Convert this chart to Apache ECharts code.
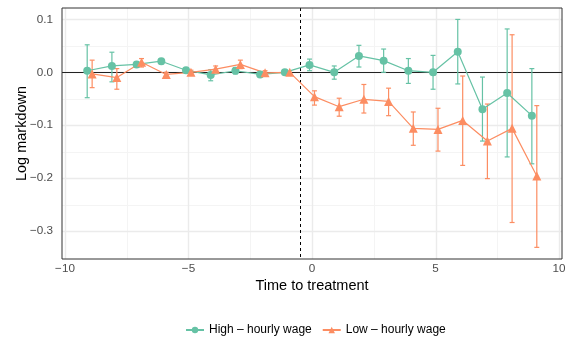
<!DOCTYPE html>
<html><head><meta charset="utf-8">
<script src="https://cdn.jsdelivr.net/npm/echarts@6/dist/echarts.min.js"></script>
<style>html,body{margin:0;padding:0;background:#fff}#c{width:575px;height:339px}</style>
</head><body><div id="c"></div>
<script>
// ---- data ----
const periods = [-9,-8,-7,-6,-5,-4,-3,-2,-1,0,1,2,3,4,5,6,7,8,9];
const highEst = [0.003,0.012,0.015,0.021,0.004,-0.005,0.003,-0.004,0,0.014,0.000,0.031,0.022,0.003,0.000,0.039,-0.070,-0.039,-0.082];
const highLo  = [-0.048,-0.018,0.010,0.016,0.000,-0.016,-0.003,-0.008,null,0.003,-0.013,0.010,0.000,-0.021,-0.032,-0.022,-0.130,-0.160,-0.173];
const highHi  = [0.052,0.038,0.020,0.026,0.008,0.005,0.009,0.000,null,0.025,0.012,0.051,0.044,0.026,0.032,0.100,-0.009,0.082,0.007];
const lowEst  = [-0.003,-0.010,0.019,-0.004,0.000,0.006,0.015,-0.001,0,-0.046,-0.065,-0.051,-0.055,-0.106,-0.108,-0.091,-0.130,-0.106,-0.196];
const lowLo   = [-0.029,-0.032,0.010,-0.008,-0.004,0.000,0.007,-0.005,null,-0.062,-0.083,-0.077,-0.082,-0.138,-0.149,-0.176,-0.201,-0.284,-0.331];
const lowHi   = [0.023,0.007,0.026,0.000,0.004,0.012,0.023,0.003,null,-0.035,-0.049,-0.023,-0.030,-0.075,-0.068,-0.007,-0.060,0.071,-0.063];
const seriesNames = ['High \u2013 hourly wage','Low \u2013 hourly wage'];
const xTicks = [-10,-5,0,5,10];
const yTicks = [-0.3,-0.2,-0.1,0.0,0.1];
const xMinor = [-7.5,-2.5,2.5,7.5];
const yMinor = [-0.25,-0.15,-0.05,0.05];
const treatmentLine = -0.5;
const zeroLine = 0;

// ---- styling constants ----
const DODGE = 0.1, CAP = 0.1;
const C_HIGH = '#66C2A5', C_LOW = '#FC8D62';
const FONT = 'Liberation Sans, Arial, Helvetica, sans-serif';
const minus = v => (v < 0 ? '\u2212' : '') + Math.abs(v);

function vlineSeries(vals, color, width, type, z) {
  return {
    type: 'custom', silent: true, z: z, clip: true,
    data: vals.map(v => [v, 0]),
    renderItem(params, api) {
      const cs = params.coordSys;
      let x = api.coord([api.value(0), 0])[0];
      x = Math.round(x) + (width % 2 ? 0.5 : 0);
      return { type: 'line', shape: { x1: x, y1: cs.y, x2: x, y2: cs.y + cs.height },
        style: { stroke: color, lineWidth: width, lineDash: type } };
    }
  };
}
function hlineSeries(vals, color, width, z) {
  return {
    type: 'custom', silent: true, z: z, clip: true,
    data: vals.map(v => [0, v]),
    renderItem(params, api) {
      const cs = params.coordSys;
      let y = api.coord([0, api.value(1)])[1];
      y = Math.round(y) + (width % 2 ? 0.5 : 0);
      return { type: 'line', shape: { x1: cs.x, y1: y, x2: cs.x + cs.width, y2: y },
        style: { stroke: color, lineWidth: width } };
    }
  };
}
function errSeries(offset, lo, hi, color) {
  const data = [];
  periods.forEach((t, i) => { if (lo[i] != null) data.push([t + offset, lo[i], hi[i]]); });
  return {
    type: 'custom', z: 3, silent: true,
    encode: { x: 0, y: [1, 2] },
    data: data,
    renderItem(params, api) {
      const x = api.value(0);
      const p1 = api.coord([x, api.value(1)]);
      const p2 = api.coord([x, api.value(2)]);
      const l = api.coord([x - CAP, api.value(1)])[0];
      const r = api.coord([x + CAP, api.value(1)])[0];
      const st = { stroke: color, lineWidth: 1.2 };
      return { type: 'group', children: [
        { type: 'line', shape: { x1: p1[0], y1: p1[1], x2: p2[0], y2: p2[1] }, style: st },
        { type: 'line', shape: { x1: l, y1: p1[1], x2: r, y2: p1[1] }, style: st },
        { type: 'line', shape: { x1: l, y1: p2[1], x2: r, y2: p2[1] }, style: st }
      ] };
    }
  };
}
function lineSeries(name, offset, est, color, symbol, size) {
  return {
    type: 'line', name: name, z: 4,
    data: periods.map((t, i) => [t + offset, est[i]]),
    symbol: symbol, symbolSize: size, showSymbol: true,
    color: color,
    lineStyle: { color: color, width: 1.2 },
    itemStyle: { color: color, opacity: 1 },
    emphasis: { disabled: true }
  };
}

const chart = echarts.init(document.getElementById('c'), null, { renderer: 'canvas' });
chart.setOption({
  animation: false,
  backgroundColor: '#fff',
  textStyle: { fontFamily: FONT },
  grid: { left: 62, right: 13, top: 8, bottom: 80, containLabel: false, outerBoundsMode: 'none',
    show: true, borderColor: '#333', borderWidth: 1, backgroundColor: 'transparent', z: 5 },
  xAxis: {
    type: 'value', min: -10.12, max: 10.12,
    name: 'Time to treatment', nameLocation: 'middle', nameGap: 19, nameMoveOverlap: false,
    nameTextStyle: { fontSize: 14.5, color: '#000', fontFamily: FONT },
    axisLine: { show: false },
    splitLine: { show: false },
    axisTick: { show: true, length: 3, lineStyle: { color: '#333', width: 1 }, customValues: xTicks },
    axisLabel: { customValues: xTicks, formatter: v => minus(v), color: '#4D4D4D', fontSize: 11.7, margin: 4, fontFamily: FONT }
  },
  yAxis: {
    type: 'value', min: -0.353, max: 0.1216,
    name: 'Log markdown', nameLocation: 'middle', nameGap: 33, nameMoveOverlap: false,
    nameTextStyle: { fontSize: 14.5, color: '#000', fontFamily: FONT },
    axisLine: { show: false },
    splitLine: { show: false },
    axisTick: { show: true, length: 3, lineStyle: { color: '#333', width: 1 }, customValues: yTicks },
    axisLabel: { customValues: yTicks, formatter: v => minus(Math.abs(v) < 1e-9 ? 0 : v).replace(/^(\u2212?)(\d+)$/, '$1$2.0'), color: '#4D4D4D', fontSize: 11.7, margin: 9, fontFamily: FONT }
  },
  legend: {
    left: 180, top: 319, itemWidth: 18, itemHeight: 8, itemGap: 10,
    textStyle: { fontSize: 12, color: '#000', fontFamily: FONT },
    data: seriesNames,
    selectedMode: false
  },
  series: [
    vlineSeries(xMinor, '#F4F4F4', 1, null, 0),
    hlineSeries(yMinor, '#F4F4F4', 1, 0),
    vlineSeries(xTicks, '#EBEBEB', 1.4, null, 1),
    hlineSeries(yTicks, '#EBEBEB', 1.4, 1),
    hlineSeries([zeroLine], '#222', 1, 2),
    vlineSeries([treatmentLine], '#000', 1, [3, 3], 2),
    errSeries(-DODGE, highLo, highHi, C_HIGH),
    errSeries(DODGE, lowLo, lowHi, C_LOW),
    lineSeries(seriesNames[0], -DODGE, highEst, C_HIGH, 'circle', 8),
    lineSeries(seriesNames[1], DODGE, lowEst, C_LOW, 'triangle', 9)
  ]
});
</script></body></html>
